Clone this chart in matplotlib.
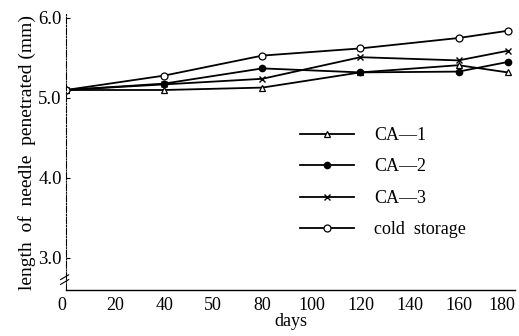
import matplotlib
matplotlib.use("Agg")
import matplotlib.pyplot as plt
import matplotlib.transforms as mtransforms

days = [0, 40, 80, 120, 160, 180]
ca1 = [5.10, 5.10, 5.13, 5.32, 5.41, 5.32]
ca2 = [5.10, 5.18, 5.37, 5.32, 5.33, 5.45]
ca3 = [5.10, 5.17, 5.24, 5.51, 5.47, 5.59]
cold = [5.10, 5.28, 5.53, 5.62, 5.75, 5.84]
labels = ["CA\u20141", "CA\u20142", "CA\u20143", "cold  storage"]
xticks = [0, 20, 40, 60, 80, 100, 120, 140, 160, 180]
xticklabels = ["0", "20", "40", "50", "80", "100", "120", "140", "160", "180"]
yticks = [3.0, 4.0, 5.0, 6.0]
yticklabels = ["3.0", "4.0", "5.0", "6.0"]

plt.rcParams['font.family'] = ['Liberation Serif', 'DejaVu Serif']

fig = plt.figure(figsize=(5.19, 3.36), dpi=100)
ax = fig.add_axes([66/519, 1-290/336, (515-66)/519, (290-14)/336])

lw = 1.3
ax.plot(days, ca1, color='black', lw=lw, marker='^', ms=5, mfc='white', mec='black', mew=0.9, label=labels[0])
ax.plot(days, ca2, color='black', lw=lw, marker='o', ms=4.5, mfc='black', mec='black', label=labels[1])
ax.plot(days, ca3, color='black', lw=lw, marker='x', ms=4.5, mew=1.0, label=labels[2])
ax.plot(days, cold, color='black', lw=lw, marker='o', ms=5, mfc='white', mec='black', mew=0.9, label=labels[3])

ax.set_xlim(0, 183)
ax.set_ylim(2.6, 6.05)
ax.set_xticks(xticks)
ax.set_xticklabels(xticklabels)
ax.set_yticks(yticks)
ax.set_yticklabels(yticklabels)
ax.tick_params(axis='both', labelsize=13.5, direction='in', length=3, width=0.8, color='black')
ax.tick_params(axis='x', length=0, pad=5, labelsize=13)
ax.tick_params(axis='y', pad=3)
for lab in ax.get_xticklabels():
    if lab.get_text() == "0":
        lab.set_horizontalalignment('right')
    if lab.get_text() == "180":
        lab.set_transform(lab.get_transform() +
                          mtransforms.ScaledTranslation(-6/100, 0, fig.dpi_scale_trans))

ax.spines['top'].set_visible(False)
ax.spines['right'].set_visible(False)
ax.spines['left'].set_linestyle((0, (6, 1.5, 1, 1.5)))
ax.spines['left'].set_linewidth(0.8)
ax.spines['bottom'].set_linewidth(1.0)

# axis break marks
trans = mtransforms.blended_transform_factory(ax.transAxes, ax.transData)
for yb in (2.76, 2.70):
    ax.plot([-0.012, 0.006], [yb - 0.03, yb + 0.03], color='black', lw=0.8,
            transform=trans, clip_on=False)

ax.set_xlabel("days", fontsize=13, labelpad=-1)
ax.set_ylabel("length  of  needle  penetrated (mm)", fontsize=14, labelpad=2)

leg = fig.legend(loc='upper left', bbox_to_anchor=(300/519, 1-127/336), frameon=False,
                 fontsize=13, handlelength=3.0, handletextpad=1.1, labelspacing=0.8,
                 borderpad=0, borderaxespad=0)

fig.savefig("out.png", dpi=100)
